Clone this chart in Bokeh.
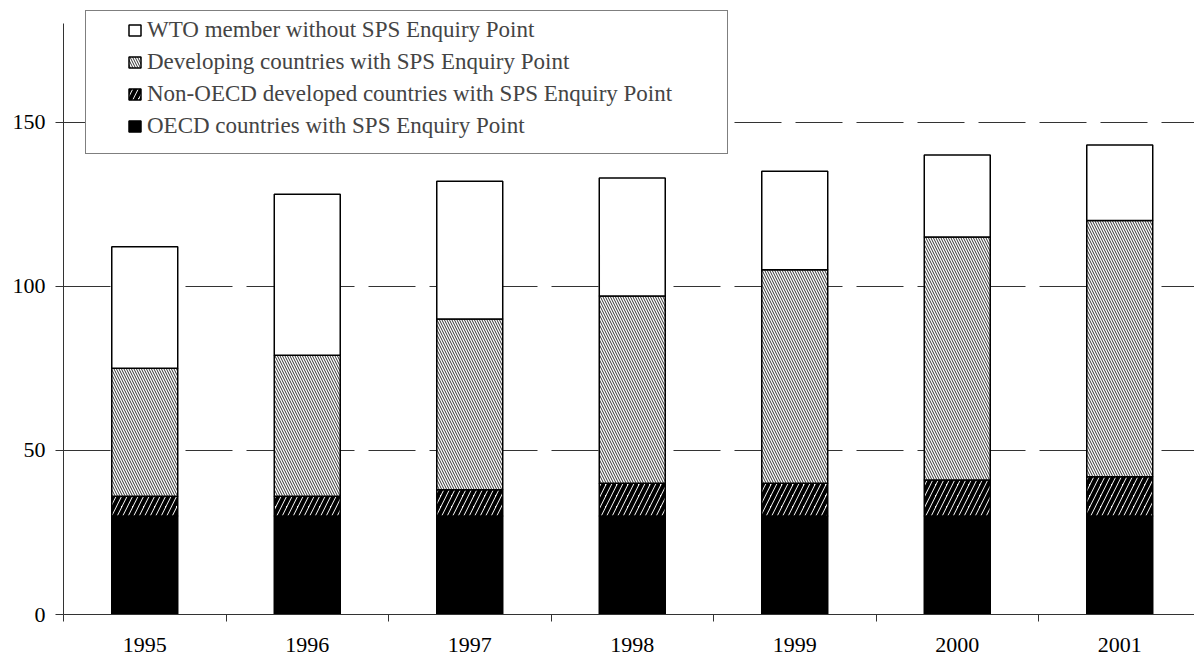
from bokeh.plotting import figure
from bokeh.models import Range1d, FixedTicker, Legend, LegendItem, ColumnDataSource
from bokeh.embed import file_html
from bokeh.resources import INLINE

years = ["1995", "1996", "1997", "1998", "1999", "2000", "2001"]
oecd = [30, 30, 30, 30, 30, 30, 30]
non_oecd_developed = [6, 6, 8, 10, 10, 11, 12]
developing = [39, 43, 52, 57, 65, 74, 78]
without_point = [37, 49, 42, 36, 30, 25, 23]

labels = [
    "OECD countries with SPS Enquiry Point",
    "Non-OECD developed countries with SPS Enquiry Point",
    "Developing countries with SPS Enquiry Point",
    "WTO member without SPS Enquiry Point",
]
y_ticks = [0, 50, 100, 150]

centers = [i + 0.5 for i in range(len(years))]
bounds = [float(i) for i in range(len(years) + 1)]

src = ColumnDataSource(dict(x=centers, oecd=oecd, nonoecd=non_oecd_developed,
                            dev=developing, wto=without_point))

FONT = "'Liberation Serif'"

p = figure(width=1194, height=656, x_range=Range1d(0, 6.96), y_range=Range1d(0, 184),
           output_backend="svg", toolbar_location=None,
           min_border_left=63, min_border_right=0, min_border_top=10, min_border_bottom=42)
p.outline_line_color = None

rs = p.vbar_stack(["oecd", "nonoecd", "dev", "wto"], x="x", width=0.406, source=src,
                  fill_color=["black", "white", "white", "white"],
                  line_color="black", line_width=1.5,
                  hatch_pattern=[" ", "/", "\\", " "],
                  hatch_color="black",
                  hatch_scale=[1, 11, 5, 1],
                  hatch_weight=[1, 4, 0.8, 1])

# axes
p.xaxis.ticker = FixedTicker(ticks=centers, minor_ticks=bounds)
p.xaxis.major_label_overrides = {c: y for c, y in zip(centers, years)}
p.xaxis.major_tick_out = 0
p.xaxis.major_tick_in = 0
p.xaxis.minor_tick_out = 7
p.xaxis.minor_tick_in = 0
p.xaxis.minor_tick_line_color = "#333333"
p.xaxis.major_label_standoff = 16

p.yaxis.ticker = FixedTicker(ticks=y_ticks, minor_ticks=[])
p.yaxis.bounds = (0, 180)
p.yaxis.major_tick_out = 8
p.yaxis.major_tick_in = 0
p.yaxis.major_label_standoff = 10

for ax in (p.xaxis, p.yaxis):
    ax.axis_line_color = "#333333"
    ax.major_tick_line_color = "#333333"
    ax.major_label_text_font = FONT
    ax.major_label_text_font_size = "22px"
    ax.major_label_text_color = "black"

p.xgrid.visible = False
p.ygrid.ticker = FixedTicker(ticks=[50, 100, 150])
p.ygrid.grid_line_color = "#333333"
p.ygrid.grid_line_dash = "47 14"
p.ygrid.grid_line_width = 1

# legend frame (border box)
dummy = p.quad(left=[], right=[], top=[], bottom=[], fill_alpha=0, line_alpha=0)
leg_box = Legend(items=[LegendItem(label="", renderers=[dummy])],
                 location=(22, 460), padding=0, spacing=0, margin=0,
                 glyph_width=641, glyph_height=142, label_width=0, label_height=0,
                 label_standoff=0, label_text_font_size="1px",
                 border_line_color="black", border_line_width=1,
                 background_fill_color="white", background_fill_alpha=1)
p.add_layout(leg_box)

items = [LegendItem(label=labels[i], renderers=[rs[i]]) for i in [3, 2, 1, 0]]
leg = Legend(items=items, location=(64, 475), padding=0, margin=0, spacing=6,
             glyph_width=15, glyph_height=14, label_height=26, label_standoff=5,
             label_text_font=FONT, label_text_font_size="23px",
             border_line_color=None, background_fill_alpha=0)
p.add_layout(leg)

open("out.html", "w").write(file_html(p, INLINE))
